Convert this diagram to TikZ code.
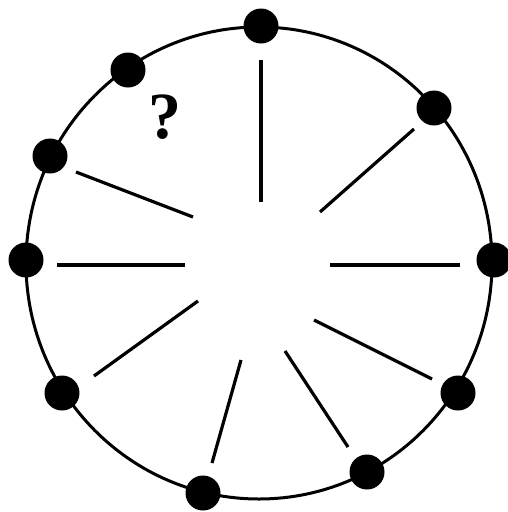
\documentclass[tikz,border=0pt]{standalone}
\usepackage{fontspec}
\setmainfont{Liberation Serif}
\begin{document}
\begin{tikzpicture}[x=1pt,y=-1pt,
  dot/.style={circle,fill=black,inner sep=0pt,minimum size=35pt},
  spoke/.style={line width=3.2pt},
  rim/.style={line width=3pt}]
\useasboundingbox (0,0) rectangle (507,512);
\draw[rim] (259,263) ellipse [x radius=233, y radius=236];
\node[dot] (d1) at (261,26) {};
\node[dot] (d2) at (128,70) {};
\node[dot] (d3) at (50,156) {};
\node[dot] (d4) at (26,260) {};
\node[dot] (d5) at (62,393) {};
\node[dot] (d6) at (203,493) {};
\node[dot] (d7) at (367,472) {};
\node[dot] (d8) at (458,393) {};
\node[dot] (d9) at (494,260) {};
\node[dot] (d10) at (434,108) {};
\draw[spoke] (261,60) -- (261,202);
\draw[spoke] (76,172) -- (193,217);
\draw[spoke] (57,265) -- (185,265);
\draw[spoke] (94,376) -- (198,301);
\draw[spoke] (212,463) -- (241,360);
\draw[spoke] (348,447) -- (285,351);
\draw[spoke] (432,379) -- (314,320);
\draw[spoke] (330,265) -- (460,265);
\draw[spoke] (414,129) -- (320,212);
\node[font=\fontsize{66}{66}\selectfont\bfseries] (q) at (165,117) {?};
\end{tikzpicture}
\end{document}
